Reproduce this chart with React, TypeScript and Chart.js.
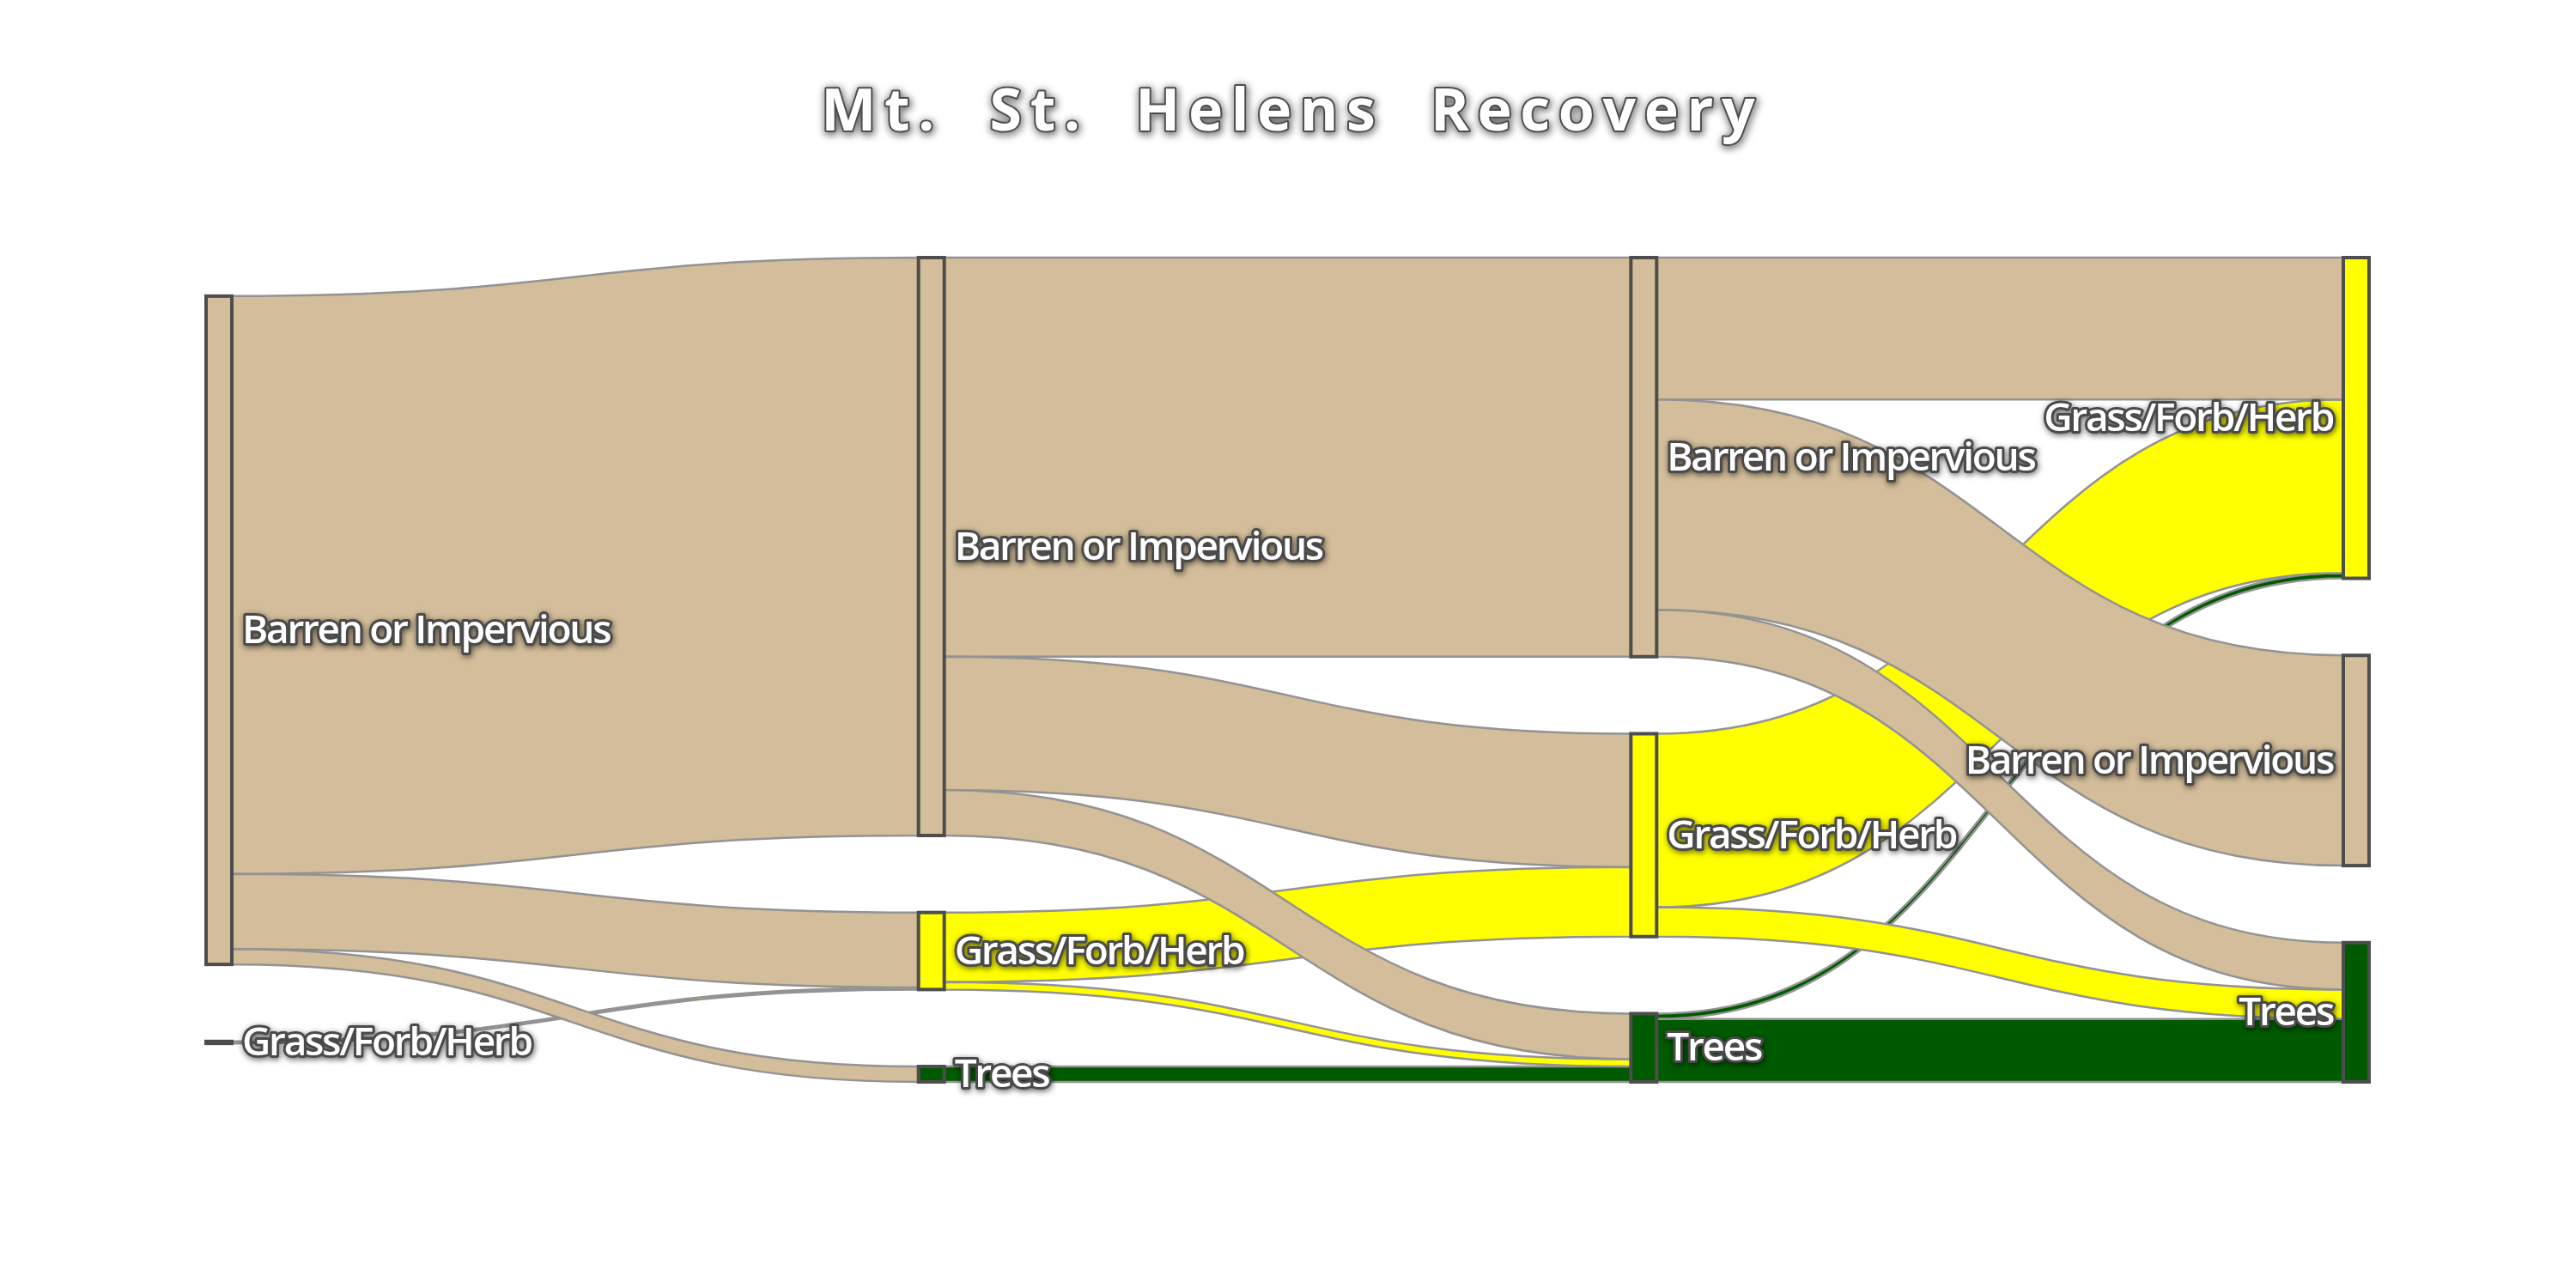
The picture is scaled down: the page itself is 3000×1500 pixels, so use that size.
import React, { useEffect, useRef } from 'react';
import { Chart, registerables } from 'chart.js';

Chart.register(...registerables);

const TITLE = 'Mt.  St.  Helens  Recovery';
const categories = ['Barren or Impervious', 'Grass/Forb/Herb', 'Trees'];
const categoryColors = ['#D3BD9A', '#FFFF00', '#005A00'];
const stages = [0, 1, 2, 3];
// node order in each stage, top to bottom (category indices)
const stageNodeOrder = [[0, 1], [0, 1, 2], [0, 1, 2], [1, 0, 2]];
// links: stage of source, source category, target category, value (% of area)
const linkStage = [0, 0, 0, 0, 1, 1, 1, 1, 1, 1, 2, 2, 2, 2, 2, 2, 2];
const linkSource = [0, 0, 0, 1, 0, 0, 0, 1, 1, 2, 0, 0, 0, 1, 1, 2, 2];
const linkTarget = [0, 1, 2, 1, 0, 1, 2, 1, 2, 2, 1, 0, 2, 1, 2, 1, 2];
const linkValue = [86.3, 11.2, 2.3, 0.3, 59.6, 19.9, 6.8, 10.4, 1.1, 2.3, 21.2, 31.4, 7.0, 25.9, 4.4, 0.8, 9.4];
const nodePadding = 11.5;
// draw order priority by source category (Trees links underneath, Barren on top)
const drawPriority = [2, 1, 0];

function computeLayout() {
  const inSum = stages.map(() => categories.map(() => 0));
  const outSum = stages.map(() => categories.map(() => 0));
  linkValue.forEach((v, i) => {
    outSum[linkStage[i]][linkSource[i]] += v;
    inSum[linkStage[i] + 1][linkTarget[i]] += v;
  });
  const nodeValue = stages.map((s) => categories.map((_, c) => Math.max(inSum[s][c], outSum[s][c])));
  const heights = stages.map((s) => {
    const ord = stageNodeOrder[s];
    return ord.reduce((a, c) => a + nodeValue[s][c], 0) + nodePadding * (ord.length - 1);
  });
  const maxH = Math.max(...heights);
  const nodeY0 = stages.map(() => categories.map(() => 0));
  stages.forEach((s) => {
    let y = (maxH - heights[s]) / 2;
    stageNodeOrder[s].forEach((c) => {
      nodeY0[s][c] = y;
      y += nodeValue[s][c] + nodePadding;
    });
  });
  const sy = linkValue.map(() => 0);
  const ty = linkValue.map(() => 0);
  stages.forEach((s) => {
    categories.forEach((_, c) => {
      const outs = linkValue.map((_, i) => i).filter((i) => linkStage[i] === s && linkSource[i] === c);
      outs.sort((a, b) => nodeY0[s + 1][linkTarget[a]] - nodeY0[s + 1][linkTarget[b]]);
      let y = nodeY0[s][c];
      outs.forEach((i) => { sy[i] = y; y += linkValue[i]; });
      const ins = linkValue.map((_, i) => i).filter((i) => linkStage[i] === s - 1 && linkTarget[i] === c);
      ins.sort((a, b) => nodeY0[s - 1][linkSource[a]] - nodeY0[s - 1][linkSource[b]]);
      let y2 = nodeY0[s][c];
      ins.forEach((i) => { ty[i] = y2; y2 += linkValue[i]; });
    });
  });
  return { nodeValue, nodeY0, maxH, sy, ty };
}

const layout = computeLayout();
const NODE_W = 30;

const sankeyPlugin = {
  id: 'sankeyDraw',
  afterDraw(chart: any) {
    const ctx: CanvasRenderingContext2D = chart.ctx;
    const xs = chart.scales.x;
    const ys = chart.scales.y;
    const { nodeValue, nodeY0, sy, ty } = layout;
    ctx.save();
    // links
    const order = linkValue.map((_, i) => i).sort((a, b) => drawPriority[linkSource[a]] - drawPriority[linkSource[b]] || a - b);
    order.forEach((i) => {
      const s = linkStage[i];
      const v = linkValue[i];
      const x0 = xs.getPixelForValue(s) + NODE_W;
      const x1 = xs.getPixelForValue(s + 1);
      const xm = (x0 + x1) / 2;
      const y0t = ys.getPixelForValue(sy[i]);
      const y0b = ys.getPixelForValue(sy[i] + v);
      const y1t = ys.getPixelForValue(ty[i]);
      const y1b = ys.getPixelForValue(ty[i] + v);
      ctx.beginPath();
      ctx.moveTo(x0, y0t);
      ctx.bezierCurveTo(xm, y0t, xm, y1t, x1, y1t);
      ctx.lineTo(x1, y1b);
      ctx.bezierCurveTo(xm, y1b, xm, y0b, x0, y0b);
      ctx.closePath();
      ctx.fillStyle = categoryColors[linkSource[i]];
      ctx.fill();
      ctx.strokeStyle = '#939393';
      ctx.lineWidth = 2.5;
      ctx.stroke();
    });
    // nodes
    stages.forEach((s) => {
      stageNodeOrder[s].forEach((c) => {
        const x = xs.getPixelForValue(s);
        const y0 = ys.getPixelForValue(nodeY0[s][c]);
        const y1 = ys.getPixelForValue(nodeY0[s][c] + nodeValue[s][c]);
        ctx.fillStyle = categoryColors[c];
        ctx.fillRect(x, y0, NODE_W, y1 - y0);
        ctx.strokeStyle = '#4d4d4d';
        ctx.lineWidth = 4;
        ctx.strokeRect(x, y0, NODE_W, y1 - y0);
      });
    });
    // labels
    ctx.font = '600 46px "Open Sans"';
    (ctx as any).letterSpacing = '-2.3px';
    ctx.textBaseline = 'middle';
    ctx.lineJoin = 'round';
    stages.forEach((s) => {
      stageNodeOrder[s].forEach((c) => {
        const last = s === stages.length - 1;
        const xl = xs.getPixelForValue(s);
        const yc = ys.getPixelForValue(nodeY0[s][c] + nodeValue[s][c] / 2) + 2;
        const x = last ? xl - 12 : xl + NODE_W + 12;
        ctx.textAlign = last ? 'right' : 'left';
        const text = categories[c];
        ctx.save();
        ctx.shadowColor = 'rgba(0,0,0,0.6)';
        ctx.shadowBlur = 7;
        ctx.shadowOffsetX = 1;
        ctx.shadowOffsetY = 2;
        ctx.strokeStyle = '#4a4a4a';
        ctx.lineWidth = 6;
        ctx.strokeText(text, x, yc);
        ctx.restore();
        ctx.fillStyle = '#ffffff';
        ctx.fillText(text, x, yc);
      });
    });
    // title
    ctx.font = 'bold 68px "Open Sans"';
    (ctx as any).letterSpacing = '9.6px';
    ctx.textAlign = 'left';
    ctx.textBaseline = 'alphabetic';
    const w = ctx.measureText(TITLE).width - 9.6;
    const tx = chart.width / 2 - w / 2;
    const tyy = 152;
    ctx.save();
    ctx.shadowColor = 'rgba(0,0,0,0.95)';
    ctx.shadowBlur = 10;
    ctx.shadowOffsetX = 1;
    ctx.shadowOffsetY = 2;
    ctx.strokeStyle = '#4d4d4d';
    ctx.lineWidth = 4;
    ctx.lineJoin = 'round';
    ctx.strokeText(TITLE, tx, tyy);
    ctx.restore();
    ctx.fillStyle = '#ffffff';
    ctx.fillText(TITLE, tx, tyy);
    (ctx as any).letterSpacing = '0px';
    ctx.restore();
  },
};

export default function App() {
  const ref = useRef<HTMLCanvasElement | null>(null);
  useEffect(() => {
    if (!ref.current) return;
    const chart = new Chart(ref.current, {
      type: 'scatter',
      data: { datasets: [] },
      options: {
        responsive: false,
        devicePixelRatio: 1,
        animation: false,
        events: [],
        layout: { padding: { left: 240, right: 271, top: 300, bottom: 240 } },
        plugins: { legend: { display: false }, tooltip: { enabled: false }, title: { display: false } },
        scales: {
          x: { type: 'linear', min: 0, max: stages.length - 1, display: false },
          y: { type: 'linear', min: 0, max: layout.maxH, reverse: true, display: false },
        },
      },
      plugins: [sankeyPlugin],
    });
    return () => chart.destroy();
  }, []);
  return (
    <div style={{ position: 'absolute', left: 0, top: 0, width: 3000, height: 1500, background: '#ffffff' }}>
      <canvas ref={ref} width={3000} height={1500} style={{ display: 'block' }} />
    </div>
  );
}
